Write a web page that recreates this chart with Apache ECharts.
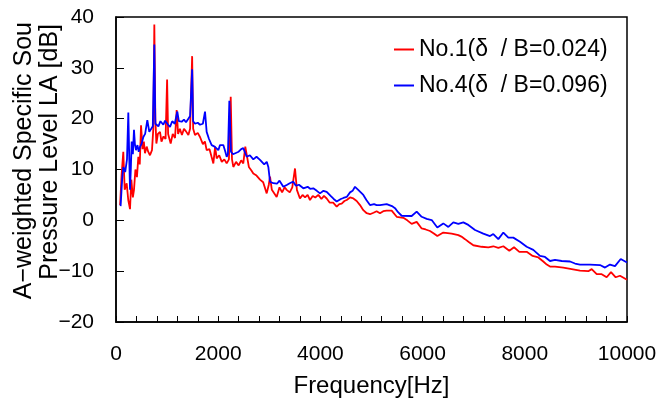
<!DOCTYPE html>
<html><head><meta charset="utf-8">
<script src="https://cdn.jsdelivr.net/npm/echarts@6/dist/echarts.min.js"></script>
<style>html,body{margin:0;padding:0;background:#fff}#c{width:662px;height:409px}</style>
</head><body><div id="c"></div>
<script>
const redName = 'No.1(δ  / B=0.024)';
const blueName = 'No.4(δ  / B=0.096)';
const redFreq = [80,110,143,170,209,240,274,300,330,352,380,410,437,465,490,520,545,567,600,630,665,704,730,750,770,790,820,861,890,930,970,1000,1020,1070,1110,1155,1187,1215,1250,1290,1330,1370,1416,1450,1490,1510,1546,1600,1644,1700,1740,1774,1830,1870,1905,1940,1970,2020,2070,2120,2166,2210,2245,2270,2296,2350,2400,2450,2491,2530,2600,2650,2687,2750,2818,2880,2949,2990,3014,3050,3079,3144,3200,3250,3300,3340,3400,3450,3503,3540,3600,3650,3700,3750,3796,3850,3900,3960,4020,4070,4123,4180,4250,4319,4370,4417,4470,4515,4580,4645,4710,4775,4840,4906,4970,5040,5100,5166,5230,5297,5395,5493,5623,5700,5786,5884,5982,6060,6145,6220,6288,6405,6490,6569,6699,6760,6830,6910,6993,7155,7286,7384,7482,7580,7697,7789,7893,8037,8154,8265,8362,8430,8493,8591,8754,8917,9080,9243,9309,9407,9505,9602,9687,9779,9863,10000];
const redLevel = [3.0,9,13.5,6,7.3,4,2.2,8,4.5,6,10,8.5,12.5,11,18.7,14,15.5,13.2,14.5,13.5,12.8,13.8,18,38.5,20,15.1,17,17.4,15.5,16.5,16,27.7,17,15.1,17,16.2,21.7,17,18,16.8,18,17.5,16.8,18,32.3,18,16.8,17.2,16.4,15,15.5,13.8,14,12.5,11.2,14.5,12.2,12.8,11.5,12,11.2,12,24.3,12,10.5,11.5,10.8,11.8,11.2,14.5,10.5,9.8,9.2,8.8,8.0,7.5,5.3,7,8.6,6,6,4.6,6.5,5.5,6.5,6,5.5,6.5,10.2,6,4.3,5,4.5,5,4,4.8,4.5,5,4.2,4.8,4.3,3.5,3.5,2.7,3.2,3.3,3.8,4,4.5,4.3,3.8,3,2,1.4,1.2,1.5,1.8,1.4,1.8,1.9,1.9,0.7,0.5,0.0,-0.7,-0.3,-1.6,-1.8,-2.1,-2.6,-3.1,-2.4,-2.5,-2.6,-2.9,-3.2,-3.7,-4.3,-4.9,-5.2,-5.3,-5.1,-5.4,-5.1,-6.0,-5.3,-6.2,-6.2,-7.0,-7.3,-8.1,-8.7,-9.1,-9.1,-9.3,-9.6,-9.9,-10.0,-9.6,-10.6,-10.6,-11.2,-10.2,-11.2,-10.9,-11.7];
const blueFreq = [90,120,143,180,215,241,260,274,290,307,330,352,370,391,420,445,470,500,535,570,613,652,690,720,750,770,796,830,870,926,960,992,1020,1057,1100,1150,1200,1230,1285,1330,1370,1416,1450,1490,1510,1546,1600,1644,1700,1742,1774,1820,1872,1930,2002,2035,2100,2140,2166,2190,2218,2250,2290,2329,2400,2450,2491,2557,2620,2687,2750,2818,2900,2950,2981,3014,3079,3150,3200,3274,3350,3400,3470,3520,3580,3666,3750,3800,3861,3930,3992,4060,4123,4200,4260,4319,4400,4450,4515,4580,4630,4677,4740,4790,4840,4900,4970,5050,5100,5166,5297,5400,5460,5520,5590,5786,5884,5982,6080,6178,6288,6405,6504,6601,6699,6797,6895,7026,7188,7319,7384,7482,7580,7678,7775,7906,8037,8166,8297,8395,8493,8591,8722,8885,8982,9080,9276,9472,9570,9667,9765,9877,10000];
const blueLevel = [2.8,8,10.5,9.5,12,21.2,12,6,10,15.5,13,17.8,15,13.8,14.8,13.5,14.5,15,16.4,17,19.7,17.4,17.2,18.5,34.6,19,19.1,18.5,19.5,18.8,19.6,19.4,18.8,18.4,19.5,19,21.4,19.5,19.4,19.8,19.3,20,20.5,29.7,19.5,19,19.2,18.8,19,21.4,17.4,16,14.8,14.5,13.8,14.8,14.8,13.5,12.5,13,23.5,13.5,13,12.8,13.5,14,14.2,12.5,12.8,12,12.5,11.9,11,11.5,10.5,7.6,7.3,7.2,7.8,6.6,7,7.3,7.6,6.8,7,6.3,6.6,6.2,6.3,5.8,5.3,5.8,5.6,4.8,4.2,3.7,4.2,4.4,4.6,5.5,5.8,6.6,6.0,5.5,5,4,3,3.2,3.0,3.0,3.2,2.8,2.4,1.6,0.9,0.85,1.7,0.7,0.3,0.06,-1.4,-0.6,-1.3,-0.4,-0.7,-0.4,-0.9,-1.9,-2.6,-3.1,-2.7,-3.7,-2.4,-3.4,-3.4,-4.2,-5.2,-5.8,-7.0,-7.2,-8.0,-7.8,-8.0,-8.1,-8.5,-8.7,-8.7,-8.8,-9.3,-8.7,-9.0,-7.6,-8.3];
const yTitle1 = 'A−weighted Specific Sou';
const yTitle2 = 'Pressure Level LA [dB]';
const xTitle = 'Frequency[Hz]';

const FF = '"Liberation Sans", Arial, sans-serif';
const pair = (f, v) => f.map((x, i) => [x, v[i]]);
const chart = echarts.init(document.getElementById('c'));
chart.setOption({
  animation: false,
  grid: {left: 116, right: 35, top: 17, bottom: 87, show: true, borderColor: '#000', borderWidth: 1.5},
  legend: {
    orient: 'vertical', left: 389, top: 33, itemWidth: 20, itemHeight: 2, itemGap: 13, icon: 'rect',
    textStyle: {color: '#000', fontSize: 23, fontFamily: FF, lineHeight: 23},
    data: [redName, blueName]
  },
  xAxis: {
    type: 'value', min: 0, max: 10000, interval: 2000,
    axisLine: {onZero: false, lineStyle: {color: '#000', width: 1.5}},
    axisTick: {inside: true, length: 6, lineStyle: {color: '#000'}},
    minorTick: {show: true, splitNumber: 5, length: 6, lineStyle: {color: '#000'}},
    splitLine: {show: false},
    axisLabel: {color: '#000', fontSize: 21, fontFamily: FF, margin: 22, formatter: v => String(v)},
    name: xTitle, nameLocation: 'middle', nameGap: 52,
    nameTextStyle: {color: '#000', fontSize: 24, fontFamily: FF}
  },
  yAxis: {
    type: 'value', min: -20, max: 40, interval: 10,
    axisLine: {lineStyle: {color: '#000', width: 1.5}},
    axisTick: {inside: true, length: 8, lineStyle: {color: '#000'}},
    splitLine: {show: false},
    axisLabel: {color: '#000', fontSize: 21, fontFamily: FF, margin: 22,
      formatter: v => String(v).replace('-', '−')}
  },
  graphic: [
    {type: 'text', x: 24, y: 22, rotation: Math.PI / 2,
     style: {text: yTitle1, fill: '#000', font: '25px ' + FF, align: 'right', verticalAlign: 'middle'}},
    {type: 'text', x: 50, y: 24, rotation: Math.PI / 2,
     style: {text: yTitle2, fill: '#000', font: '25px ' + FF, align: 'right', verticalAlign: 'middle'}}
  ],
  series: [
    {name: redName, type: 'line', data: pair(redFreq, redLevel), symbol: 'none', color: '#ff0000',
     lineStyle: {width: 1.8, color: '#ff0000'}},
    {name: blueName, type: 'line', data: pair(blueFreq, blueLevel), symbol: 'none', color: '#0000ff',
     lineStyle: {width: 1.8, color: '#0000ff'}}
  ]
});
</script></body></html>
